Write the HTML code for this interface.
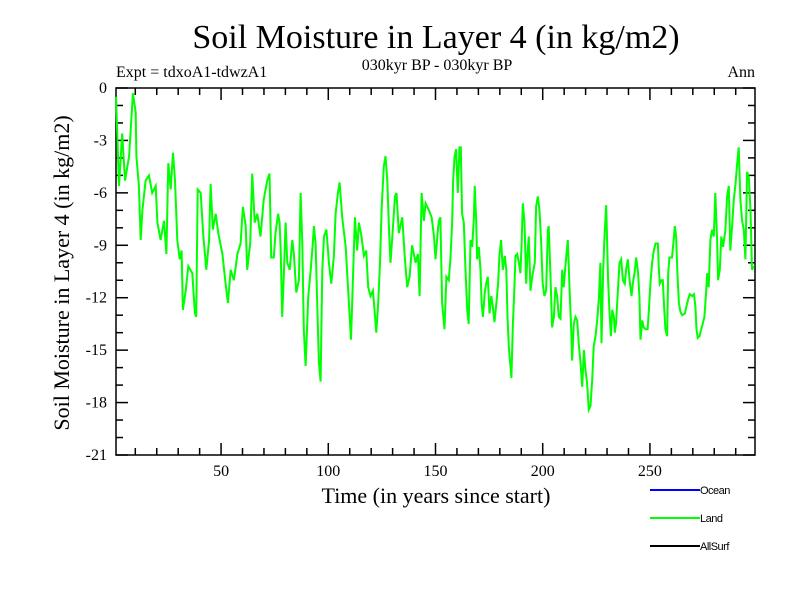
<!DOCTYPE html>
<html><head><meta charset="utf-8"><style>
body{margin:0;background:#fff;width:800px;height:600px;overflow:hidden}
svg text{font-family:"Liberation Serif",serif}
svg text.sans{font-family:"Liberation Sans",sans-serif}
</style></head><body>
<svg width="800" height="600" id="chart">
<text x="436" y="48" font-size="34" text-anchor="middle">Soil Moisture in Layer 4 (in kg/m2)</text>
<text x="116" y="77" font-size="16">Expt = tdxoA1-tdwzA1</text>
<text x="437" y="70" font-size="16" text-anchor="middle">030kyr BP - 030kyr BP</text>
<text x="755" y="77" font-size="16" text-anchor="end">Ann</text>
<text x="436" y="503" font-size="22" text-anchor="middle">Time (in years since start)</text>
<text transform="translate(69,273) rotate(-90)" font-size="22" text-anchor="middle">Soil Moisture in Layer 4 (in kg/m2)</text>
<g id="axes"></g>
<g id="series"></g>
<g>
<line x1="650" y1="490" x2="700" y2="490" stroke="#0000ff" stroke-width="2"/>
<text class="sans" x="700" y="494" font-size="11" letter-spacing="-0.5">Ocean</text>
<line x1="650" y1="518" x2="700" y2="518" stroke="#00ff00" stroke-width="2"/>
<text class="sans" x="700" y="522" font-size="11" letter-spacing="-0.5">Land</text>
<line x1="650" y1="546" x2="700" y2="546" stroke="#000" stroke-width="2"/>
<text class="sans" x="700" y="550" font-size="11" letter-spacing="-0.5">AllSurf</text>
</g>
</svg>
<script>
const years=[1,2.4,3.9,5.2,7.1,8.9,10.2,10.5,11.7,12.5,13.3,14.8,16.4,17.9,19.5,20.3,21.8,23.4,24.5,25.4,26.5,27.6,28.5,29.6,30.7,31.6,32.2,33.5,34.7,36.6,37.8,38.4,39.1,40.5,41.6,43.1,44.4,45.1,46.2,47.5,48.7,50.6,52.1,53.2,54.5,56,57.6,59.1,60.2,61.5,62.2,63.6,64.5,65.7,66.9,68.4,69.9,71.5,72.6,73.4,74.6,75.4,76.6,
77.3,77.8,78.5,79.3,80.1,80.9,82,83.2,84,85.1,86.3,87.1,87.9,88.6,89.4,90.7,91.8,92.8,93.3,94.1,94.9,95.6,96.4,97.2,98,99.1,100.3,101.4,102.6,103.4,104.5,105.3,106.5,108.1,109.6,110.6,111.5,112.4,113.5,114.3,115.5,116.6,117.7,118.6,119.7,120.8,121.7,122.4,123.3,124.1,124.9,125.9,126.7,127.5,128.3,129,130.1,131.1,131.8,132.9,134.5,135.7,136.8,137.9,139.1,140.7,141.8,142.6,143.5,144.6,145.4,146.9,148.2,149.3,150,151.1,
151.6,152.3,153.1,154.2,155.1,156.2,157,157.8,158.2,158.9,159.6,160.4,161.2,161.8,162.4,163.2,164,164.8,165.5,166.3,167.1,167.9,168.3,169,169.4,170.2,171,171.5,172.1,173,173.6,174.4,175.2,176,176.7,177.5,178.4,179.2,179.8,180.6,181.4,182.3,183,183.6,184.2,184.8,185.4,186.1,186.8,187.3,188.1,188.9,189.6,190.1,190.7,191.5,192.3,192.9,193.5,194.3,195.1,196.3,196.9,197.7,198.5,199.3,200,200.8,201.6,202.4,202.8,203.6,204.4,205.2,205.9,206.7,207.5,208.3,209.1,209.8,210.6,211.1,211.7,212.5,213.3,213.7,214.5,215.3,216.1,216.8,217.6,218.4,219.2,219.9,220.7,221.5,222.3,223.1,223.8,224.6,225.4,226.2,
226.9,227.4,228.2,228.8,229.6,230,230.5,231.1,231.8,232.4,233.2,233.6,234.2,235,235.8,236.6,237.4,238.3,238.9,239.7,240.5,241.4,242,242.8,243.6,244.5,245.1,245.6,246.4,247.1,247.9,248.9,249.5,250.2,251,251.8,252.6,253.7,254.1,254.6,255.4,256,256.6,257.2,258,258.5,259.1,260.3,261.1,261.6,262.2,262.8,263.5,264.2,265,266.3,267,267.8,268.6,269.7,270.5,271.2,271.7,272.3,273.1,273.9,274.6,275.4,276.2,276.7,277.4,278.2,279,279.8,280.5,281.3,281.8,282.6,283.3,284.1,285.2,286,286.8,287.5,288.3,289.1,289.9,290.7,291.4,292.2,293,293.8,294.5,295.3,296.1,296.9,297.6,298.4];
const landValues=[-0.5,-5.6,-2.6,-5.3,-3.9,-0.3,-1.4,-3.9,-5.6,-8.7,-7.0,-5.3,-5.0,-6.0,-5.6,-7.7,-8.7,-7.6,-9.5,-4.3,-5.8,-3.7,-5.3,-8.7,-9.8,-9.3,-12.7,-11.6,-10.2,-10.6,-12.9,-13.1,-5.8,-6.0,-8.3,-10.4,-8.7,-5.5,-8.1,-7.2,-8.3,-9.5,-11.2,-12.3,-10.4,-11.0,-9.5,-8.9,-6.8,-7.9,-10.4,-8.9,-4.9,-7.7,-7.2,-8.5,-6.4,-5.3,-4.9,-9.7,-9.7,-8.3,-7.2,
-7.7,-9.3,-13.1,-10.6,-7.7,-10.0,-10.4,-8.7,-9.6,-11.7,-11.0,-6.0,-8.9,-13.8,-15.9,-11.9,-10.4,-8.9,-7.9,-8.9,-12.5,-15.7,-16.8,-10.4,-8.5,-8.1,-10.0,-11.2,-9.6,-7.2,-6.0,-5.4,-7.4,-9.1,-12.3,-14.4,-11.0,-7.4,-9.3,-7.7,-8.5,-9.6,-9.3,-11.4,-11.9,-11.6,-12.9,-14.0,-12.3,-10.0,-6.8,-4.5,-3.9,-5.3,-8.1,-10.0,-8.1,-6.2,-6.0,-8.3,-7.4,-9.7,-11.4,-10.8,-9.0,-10.0,-9.5,-11.9,-6.0,-7.6,-6.6,-7.0,-7.4,-8.5,-9.8,-8.1,
-7.6,-7.4,-12.3,-13.8,-10.8,-11.0,-9.7,-7.6,-5.3,-3.9,-3.5,-6.0,-3.4,-3.4,-7.2,-7.7,-10.4,-12.7,-13.5,-8.7,-9.1,-7.4,-5.6,-7.6,-9.8,-9.1,-10.4,-12.3,-13.1,-11.7,-11.2,-10.8,-12.9,-11.9,-12.5,-13.4,-12.3,-11.2,-9.6,-8.7,-10.4,-9.6,-10.4,-13.1,-14.8,-15.7,-16.6,-13.5,-11.4,-9.6,-9.5,-10.0,-10.6,-9.1,-6.6,-7.7,-11.2,-9.5,-8.5,-11.6,-10.8,-10.0,-6.8,-6.2,-7.0,-8.9,-11.2,-11.9,-11.6,-8.1,-7.9,-10.6,-13.7,-13.1,-11.4,-11.9,-13.1,-13.2,-10.4,-11.4,-10.2,-9.5,-8.7,-11.4,-13.8,-15.6,-13.5,-13.1,-13.3,-14.6,-15.7,-17.1,-15.0,-16.1,-16.9,-18.4,-18.2,-16.7,-14.8,-14.2,-13.3,-12.0,
-10.0,-14.6,-10.4,-8.5,-6.7,-8.5,-11.0,-12.7,-14.2,-12.7,-13.1,-14.0,-13.5,-11.7,-10.0,-9.8,-11.0,-11.2,-10.4,-9.8,-11.0,-11.9,-11.2,-10.6,-9.7,-10.6,-11.9,-14.4,-13.3,-13.7,-13.8,-13.8,-12.7,-11.2,-10.0,-9.3,-8.9,-8.9,-10.2,-11.2,-11.0,-11.0,-12.5,-13.8,-14.2,-10.6,-9.7,-9.7,-8.7,-7.9,-8.5,-10.6,-12.3,-12.8,-13.0,-12.9,-12.5,-12.1,-11.8,-11.9,-11.8,-12.5,-13.8,-14.3,-14.2,-13.8,-13.5,-13.1,-11.7,-10.6,-11.4,-8.7,-8.1,-8.5,-6.0,-8.5,-11.0,-10.4,-8.5,-9.1,-8.1,-6.2,-5.6,-9.3,-7.9,-6.4,-5.5,-4.3,-3.4,-6.4,-7.6,-8.1,-9.8,-4.8,-5.1,-7.0,-10.4,-10.2];
const xTickLabels=[50,100,150,200,250];
const yTickLabels=[0,-3,-6,-9,-12,-15,-18,-21];

const L=116,R=755,T=88,B=455,X0=1,X1=299,Y0=0,Y1=-21;
const xs=v=>L+(v-X0)/(X1-X0)*(R-L);
const ys=v=>T+(v-Y0)/(Y1-Y0)*(B-T);
const NS='http://www.w3.org/2000/svg';
const axes=document.getElementById('axes');
function mk(tag,attrs,parent){const e=document.createElementNS(NS,tag);for(const k in attrs)e.setAttribute(k,attrs[k]);parent.appendChild(e);return e;}
const frame=mk('rect',{x:L,y:T,width:R-L,height:B-T,fill:'none',stroke:'#000','stroke-width':1.5},axes);


for(let v=10;v<X1;v+=10){
  const x=xs(v),len=(v%50===0)?12:7;
  const t1=mk('line',{x1:x,y1:B,x2:x,y2:B-len,stroke:'#000','stroke-width':1.5},axes);
  
  
  const t2=mk('line',{x1:x,y1:T,x2:x,y2:T+len,stroke:'#000','stroke-width':1.5},axes);
  
  
}
xTickLabels.forEach(v=>{
  const t=mk('text',{x:xs(v),y:B+21,'font-size':16,'text-anchor':'middle'},axes);t.textContent=v;
  
  
});
for(let v=0;v>=-21;v-=1){
  const y=ys(v),len=(v%3===0)?12:7;
  const a=mk('line',{x1:L,y1:y,x2:L+len,y2:y,stroke:'#000','stroke-width':1.5},axes);
  
  
  const b=mk('line',{x1:R,y1:y,x2:R-len,y2:y,stroke:'#000','stroke-width':1.5},axes);
  
  
}
yTickLabels.forEach(v=>{
  const t=mk('text',{x:L-9,y:ys(v)+5,'font-size':16,'text-anchor':'end'},axes);t.textContent=v;
  
  
});
const pts=years.map((yr,i)=>xs(yr).toFixed(1)+','+ys(landValues[i]).toFixed(1)).join(' ');
const line=mk('polyline',{points:pts,fill:'none',stroke:'#00ff00','stroke-width':2,'stroke-linejoin':'miter'},document.getElementById('series'));


</script>
</body></html>
